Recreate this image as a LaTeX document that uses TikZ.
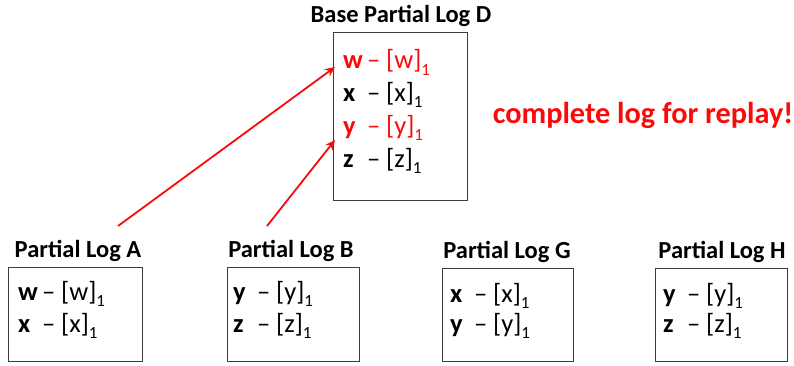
\documentclass[tikz,border=0pt]{standalone}
\usepackage{fontspec}
\setmainfont{Carlito}
\usetikzlibrary{arrows.meta}
\definecolor{logred}{RGB}{250,10,10}
\definecolor{boxgray}{RGB}{60,60,60}
\newcommand\subone{\raisebox{-6.5pt}{\fontsize{17}{17}\selectfont 1}}
\newcommand\keyl[1]{\makebox[0.9em][l]{\textbf{#1}}}
\newcommand\entry[1]{\keyl{#1}–\ [#1]\subone}
\tikzset{
  box/.style={draw=boxgray, line width=1.2pt, anchor=north west, inner sep=0pt},
  title/.style={font=\fontsize{24.5}{28}\selectfont\bfseries, anchor=base, inner sep=0pt},
  line/.style={font=\fontsize{26.5}{30}\selectfont, anchor=base west, inner sep=0pt},
  hl/.style={line, text=logred},
  replay/.style={-{Stealth[length=10pt,width=9pt]}, draw=logred, line width=1.8pt}
}
\begin{document}
\begin{tikzpicture}[x=1pt,y=-1pt]
\useasboundingbox (0,0) rectangle (794,365);
% Base log D
\node[title] (tD) at (401,22) {Base Partial Log D};
\node[box, minimum width=134pt, minimum height=168pt] (D) at (333,32) {};
\node[hl] (Dw) at (343,68.5) {\entry{w}};
\node[line] (Dx) at (343,101.3) {\entry{x}};
\node[hl] (Dy) at (343,134.1) {\entry{y}};
\node[line] (Dz) at (343,167) {\entry{z}};
\node[font=\fontsize{30.3}{34}\selectfont\bfseries, text=logred, anchor=base, inner sep=0pt] (msg) at (643,123) {complete log for replay!};
% A
\node[title] (tA) at (78,257) {Partial Log A};
\node[box, minimum width=134pt, minimum height=94pt] (A) at (8,267) {};
\node[line] (Aw) at (18,300) {\entry{w}};
\node[line] (Ax) at (18,332) {\entry{x}};
% B
\node[title] (tB) at (291,257) {Partial Log B};
\node[box, minimum width=132pt, minimum height=94pt] (B) at (227,267) {};
\node[line] (By) at (233,300) {\entry{y}};
\node[line] (Bz) at (233,332) {\entry{z}};
% G
\node[title] (tG) at (507,258) {Partial Log G};
\node[box, minimum width=131pt, minimum height=93pt] (G) at (442,268) {};
\node[line] (Gx) at (450,302) {\entry{x}};
\node[line] (Gy) at (450,332) {\entry{y}};
% H
\node[title] (tH) at (722,258) {Partial Log H};
\node[box, minimum width=132pt, minimum height=93pt] (H) at (655,268) {};
\node[line] (Hy) at (663,302) {\entry{y}};
\node[line] (Hz) at (663,332) {\entry{z}};
% arrows
\coordinate (a1) at (118,226);
\coordinate (b1) at (267,226);
\coordinate (wtip) at ([xshift=2pt,yshift=-35pt]D.north west);
\coordinate (ytip) at ([xshift=2pt,yshift=-108pt]D.north west);
\draw[replay] (a1) -- (wtip);
\draw[replay] (b1) -- (ytip);
\end{tikzpicture}
\end{document}
